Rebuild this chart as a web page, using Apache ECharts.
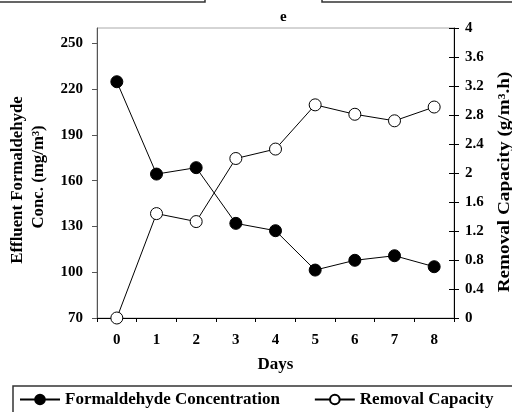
<!DOCTYPE html>
<html><head><meta charset="utf-8">
<script src="https://cdn.jsdelivr.net/npm/echarts@6/dist/echarts.min.js"></script>
<style>html,body{margin:0;padding:0;background:#fff}#c{width:512px;height:412px}</style>
</head><body><div id="c"></div>
<script>
const days = ['0','1','2','3','4','5','6','7','8'];
const formaldehyde = [224.8, 164.3, 168.5, 132, 127.2, 101.4, 107.8, 110.8, 103.6];
const removalCapacity = [0, 1.44, 1.33, 2.2, 2.33, 2.94, 2.81, 2.72, 2.91];
const leftTicks = [70, 100, 130, 160, 190, 220, 250];
const FONT = 'Liberation Serif';

const chart = echarts.init(document.getElementById('c'));
chart.setOption({
  animation: false,
  backgroundColor: '#fff',
  textStyle: { fontFamily: FONT },
  title: { text: 'e', left: 275, top: 5, textStyle: { fontFamily: FONT, fontWeight: 'bold', fontSize: 15, color: '#000' } },
  grid: { left: 97, right: 58, top: 28, bottom: 94, show: true, borderColor: '#aaa', borderWidth: 1 },
  legend: {
    left: 13, top: 386, width: 700, itemWidth: 40, itemHeight: 12, itemGap: 34,
    padding: [5, 30, 8, 6], borderColor: '#333', borderWidth: 1.5,
    textStyle: { fontFamily: FONT, fontWeight: 'bold', fontSize: 17, color: '#000' },
    data: ['Formaldehyde Concentration', 'Removal Capacity']
  },
  xAxis: {
    type: 'category', data: days, boundaryGap: true,
    name: 'Days', nameLocation: 'middle', nameGap: 38,
    nameTextStyle: { fontFamily: FONT, fontWeight: 'bold', fontSize: 17, color: '#000' },
    axisLine: { lineStyle: { color: '#000', width: 1 } },
    axisTick: { show: true, alignWithLabel: false, length: 4, lineStyle: { color: '#000' } },
    axisLabel: { margin: 15, fontFamily: FONT, fontWeight: 'bold', fontSize: 15, color: '#000' }
  },
  yAxis: [
    {
      type: 'value', min: 70, max: 260, position: 'left',
      axisLine: { show: true, lineStyle: { color: '#555' } },
      axisTick: { show: true, length: 5, customValues: leftTicks, lineStyle: { color: '#555' } },
      axisLabel: { customValues: leftTicks, margin: 14, fontFamily: FONT, fontWeight: 'bold', fontSize: 15, color: '#000' },
      splitLine: { show: false }
    },
    {
      type: 'value', min: 0, max: 4, interval: 0.4, position: 'right',
      axisLine: { show: true, lineStyle: { color: '#000' } },
      axisTick: { show: true, length: 5, lineStyle: { color: '#000' } },
      axisLabel: { margin: 11, fontFamily: FONT, fontWeight: 'bold', fontSize: 15, color: '#000',
        formatter: v => String(Math.round(v * 10) / 10) },
      splitLine: { show: false }
    },
    {
      type: 'value', min: 0, max: 4, interval: 0.4, position: 'right',
      axisLine: { show: false },
      axisTick: { show: true, inside: true, length: 5, lineStyle: { color: '#000' } },
      axisLabel: { show: false },
      splitLine: { show: false }
    }
  ],
  graphic: [
    { type: 'rect', shape: { x: -2, y: -10, width: 207, height: 12 }, style: { fill: 'none', stroke: '#333', lineWidth: 1.5 } },
    { type: 'rect', shape: { x: 322, y: -10, width: 200, height: 12 }, style: { fill: 'none', stroke: '#333', lineWidth: 1.5 } },
    { type: 'text', x: 18, y: 180, rotation: Math.PI / 2, scaleX: 1.05, style: { text: 'Effluent Formaldehyde', font: 'bold 16px "Liberation Serif"', fill: '#000', align: 'center', verticalAlign: 'middle' } },
    { type: 'text', x: 39, y: 177, rotation: Math.PI / 2, scaleX: 1.05, style: { text: 'Conc. (mg/m³)', font: 'bold 16px "Liberation Serif"', fill: '#000', align: 'center', verticalAlign: 'middle' } },
    { type: 'text', x: 505, y: 182, rotation: Math.PI / 2, scaleX: 1.2, style: { text: 'Removal Capacity (g/m³.h)', font: 'bold 16px "Liberation Serif"', fill: '#000', align: 'center', verticalAlign: 'middle' } }
  ],
  series: [
    {
      name: 'Formaldehyde Concentration', type: 'line', yAxisIndex: 0, data: formaldehyde,
      symbol: 'circle', symbolSize: 12,
      lineStyle: { color: '#000', width: 1 },
      itemStyle: { color: '#000', borderColor: '#000', borderWidth: 1 }
    },
    {
      name: 'Removal Capacity', type: 'line', yAxisIndex: 1, data: removalCapacity,
      symbol: 'circle', symbolSize: 12,
      lineStyle: { color: '#000', width: 1 },
      itemStyle: { color: '#fff', borderColor: '#000', borderWidth: 1 }
    }
  ]
});
</script></body></html>
